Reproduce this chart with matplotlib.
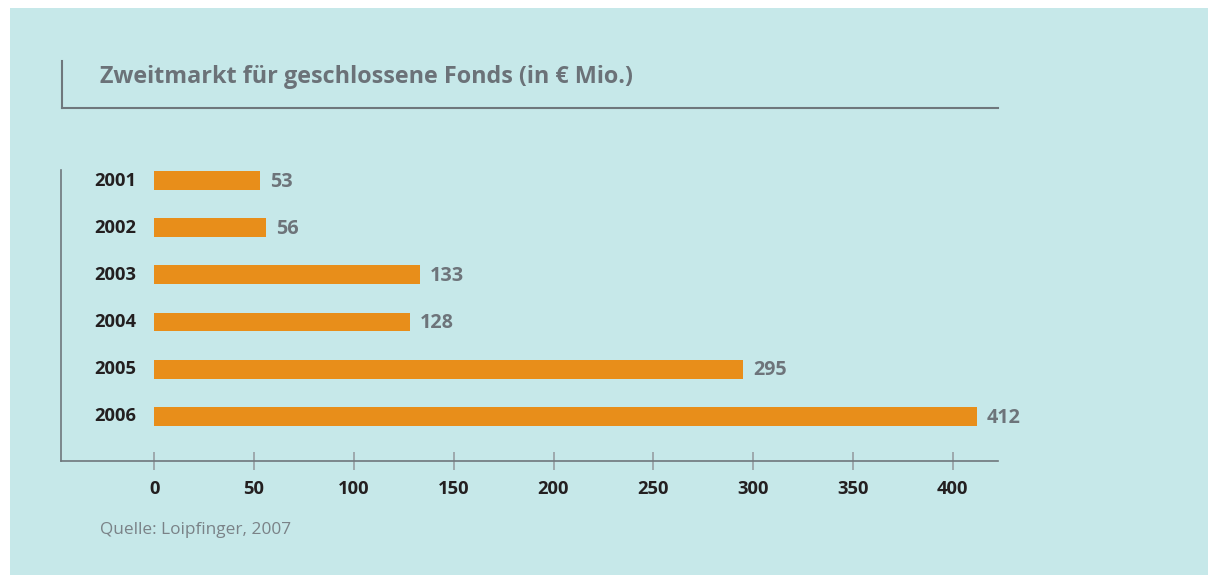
import matplotlib.pyplot as plt
from matplotlib.lines import Line2D
from matplotlib.patches import Rectangle

# DATOS
years = ["2001", "2002", "2003", "2004", "2005", "2006"]
values = [53, 56, 133, 128, 295, 412]
xticks = [0, 50, 100, 150, 200, 250, 300, 350, 400]

title = "Zweitmarkt für geschlossene Fonds (in € Mio.)"
source = "Quelle: Loipfinger, 2007"

# ESTILO
bg = "#c6e8e9"
bar_color = "#e88e1a"
line_color = "#6f777c"
tick_color = "#9aa4a8"
dark = "#231f20"
gray = "#6d747a"
plt.rcParams['font.family'] = ['Open Sans', 'DejaVu Sans']

W, H = 1208, 575
fig = plt.figure(figsize=(W / 100, H / 100), dpi=100)
fig.patch.set_facecolor("white")
fig.add_artist(Rectangle((10 / W, 0), 1 - 10 / W, 1 - 8 / H, transform=fig.transFigure,
                         facecolor=bg, edgecolor="none", zorder=0))

# título con marco
fig.add_artist(Line2D([62 / W, 62 / W], [1 - 61 / H, 1 - 107.5 / H], color=line_color, lw=1.5))
fig.add_artist(Line2D([62 / W, 998 / W], [1 - 107.5 / H, 1 - 107.5 / H], color=line_color, lw=1.5))
fig.text(100 / W, 1 - 83 / H, title, fontsize=16.8, fontweight="bold", color="#6b7278", va="baseline")
fig.text(100 / W, 1 - 534.5 / H, source, fontsize=12.4, color="#7a8287", va="baseline")

# EJES
ax = fig.add_axes([60.7 / W, 1 - 461 / H, (998 - 60.7) / W, (461 - 170) / H])
ax.set_facecolor("none")
ypos = list(range(len(years)))
ax.barh(ypos, values, height=0.4, color=bar_color)
ax.set_xlim(-46.9, 422.7)
ax.set_ylim(5.95, -0.223)

for y, v, yr in zip(ypos, values, years):
    ax.annotate(str(v), (v, y), xytext=(7.5, -1), textcoords="offset points",
                ha="left", va="center", fontsize=14.2, fontweight="bold", color=gray)
    ax.annotate(yr, (0, y), xytext=(-13, 0), textcoords="offset points",
                ha="right", va="center", fontsize=13.2, fontweight="bold", color=dark)

ax.set_yticks([])
ax.set_xticks(xticks)
ax.set_xticklabels([str(t) for t in xticks], fontsize=13.2, fontweight="bold", color=dark)
ax.tick_params(axis="x", direction="inout", length=13, width=1.3, color=tick_color, pad=7.5)
for s in ["top", "right"]:
    ax.spines[s].set_visible(False)
for s in ["left", "bottom"]:
    ax.spines[s].set_color(line_color)
    ax.spines[s].set_linewidth(1.2)

plt.savefig("out.png", dpi=100, facecolor=fig.get_facecolor())
